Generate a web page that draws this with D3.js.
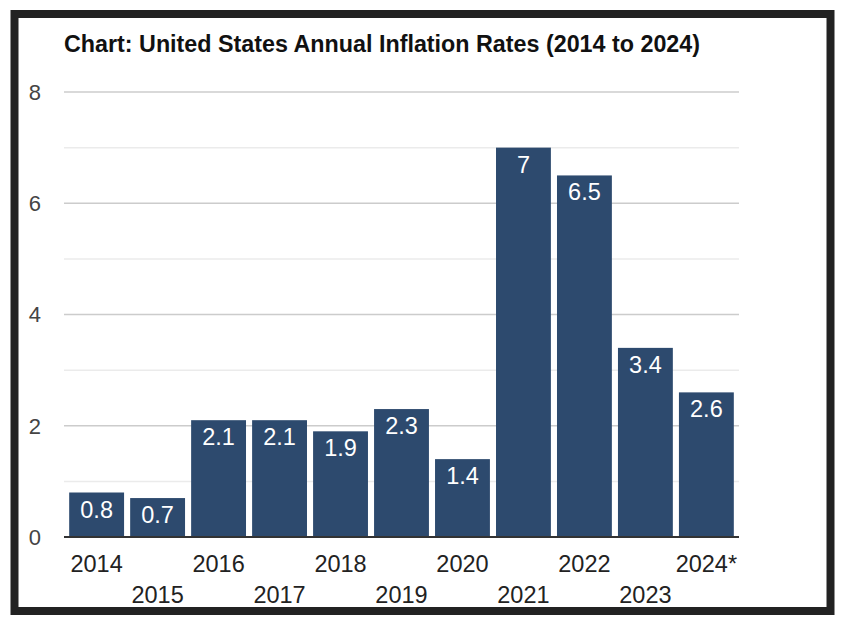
<!DOCTYPE html>
<html lang="en">
<head>
<meta charset="UTF-8"/>
<title>US Annual Inflation Rates</title>
<script src="https://d3js.org/d3.v7.min.js"></script>
<style>
  body { margin: 0; background: #fff; }
  text { font-family: "Liberation Sans", Arial, sans-serif; }
</style>
</head>
<body>
<div id="chart"></div>
<script>
var years = ["2014", "2015", "2016", "2017", "2018", "2019", "2020", "2021", "2022", "2023", "2024*"];
var rates = [0.8, 0.7, 2.1, 2.1, 1.9, 2.3, 1.4, 7, 6.5, 3.4, 2.6];
var yTicks = [0, 2, 4, 6, 8];
var minorTicks = [1, 3, 5, 7];

var data = years.map(function(y, i) { return {year: y, rate: rates[i]}; });

var W = 850, H = 624;
var plot = {left: 64, right: 739, top: 92, bottom: 537};

var svg = d3.select("#chart").append("svg")
    .attr("width", W)
    .attr("height", H);

// frame
svg.append("rect")
    .attr("x", 14.5).attr("y", 14).attr("width", 816).attr("height", 597)
    .attr("fill", "#fff")
    .attr("stroke", "#222")
    .attr("stroke-width", 8);

svg.append("text")
    .attr("x", 64).attr("y", 52)
    .attr("font-size", 23.3)
    .attr("font-weight", "bold")
    .attr("fill", "#111")
    .text("Chart: United States Annual Inflation Rates (2014 to 2024)");

var x = d3.scaleBand()
    .domain(years)
    .range([plot.left, plot.right])
    .paddingInner(0.1)
    .paddingOuter(0.085);

var y = d3.scaleLinear()
    .domain([0, 8])
    .range([plot.bottom, plot.top]);

// gridlines
svg.selectAll("line.minor")
    .data(minorTicks)
    .enter().append("line")
    .attr("class", "minor")
    .attr("x1", plot.left).attr("x2", plot.right)
    .attr("y1", function(d) { return y(d); })
    .attr("y2", function(d) { return y(d); })
    .attr("stroke", "#ebebeb")
    .attr("stroke-width", 1.5);

svg.selectAll("line.major")
    .data(yTicks.slice(1))
    .enter().append("line")
    .attr("class", "major")
    .attr("x1", plot.left).attr("x2", plot.right)
    .attr("y1", function(d) { return y(d); })
    .attr("y2", function(d) { return y(d); })
    .attr("stroke", "#cccccc")
    .attr("stroke-width", 1.5);

// y tick labels
svg.selectAll("text.ytick")
    .data(yTicks)
    .enter().append("text")
    .attr("class", "ytick")
    .attr("x", 41)
    .attr("y", function(d) { return y(d); })
    .attr("dy", "0.36em")
    .attr("text-anchor", "end")
    .attr("font-size", 22)
    .attr("fill", "#444")
    .text(function(d) { return d; });

// bars
svg.selectAll("rect.bar")
    .data(data)
    .enter().append("rect")
    .attr("class", "bar")
    .attr("x", function(d) { return x(d.year); })
    .attr("y", function(d) { return y(d.rate); })
    .attr("width", x.bandwidth())
    .attr("height", function(d) { return y(0) - y(d.rate); })
    .attr("fill", "#2d4a6e");

// value labels
svg.selectAll("text.val")
    .data(data)
    .enter().append("text")
    .attr("class", "val")
    .attr("x", function(d) { return x(d.year) + x.bandwidth() / 2; })
    .attr("y", function(d) { return y(d.rate) + 25; })
    .attr("text-anchor", "middle")
    .attr("font-size", 23.5)
    .attr("fill", "#fff")
    .text(function(d) { return d.rate; });

// baseline
svg.append("line")
    .attr("x1", plot.left).attr("x2", plot.right)
    .attr("y1", y(0)).attr("y2", y(0))
    .attr("stroke", "#333")
    .attr("stroke-width", 2);

// x labels, staggered
svg.selectAll("text.xtick")
    .data(years)
    .enter().append("text")
    .attr("class", "xtick")
    .attr("x", function(d) { return x(d) + x.bandwidth() / 2; })
    .attr("y", function(d, i) { return i % 2 === 0 ? 572 : 603; })
    .attr("text-anchor", "middle")
    .attr("font-size", 23.5)
    .attr("fill", "#222")
    .text(function(d) { return d; });
</script>
</body>
</html>
